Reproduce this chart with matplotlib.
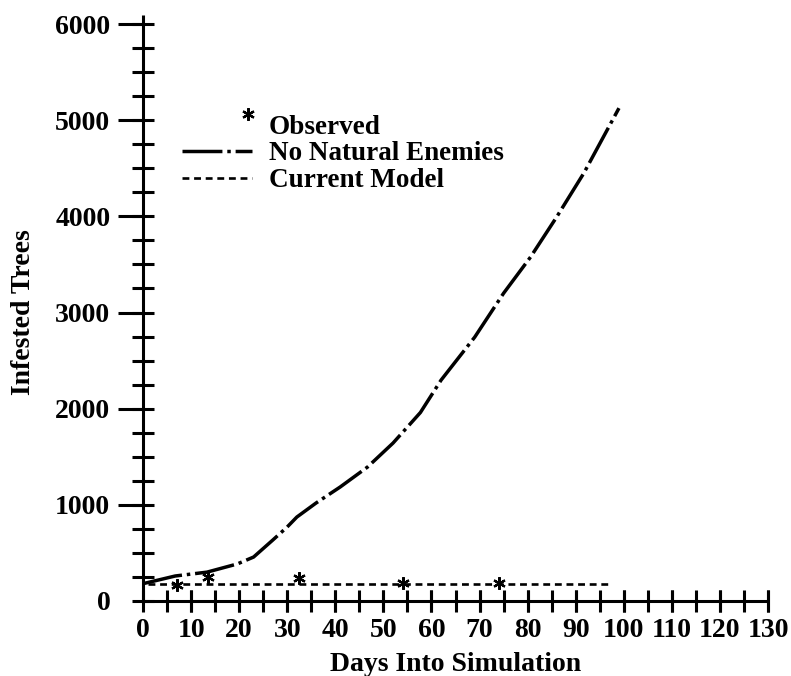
import matplotlib
matplotlib.use("Agg")
import matplotlib.pyplot as plt
from matplotlib.ticker import MultipleLocator, FixedLocator
from matplotlib.lines import Line2D
import numpy as np

# ---------------- data ----------------
no_enemies_days = [0, 6.7, 13.3, 19.6, 23, 27, 30, 32, 36, 41, 46.7, 52, 57.7,
                   62, 69, 75, 80.6, 86, 91.7, 99]
no_enemies_vals = [180, 260, 300, 385, 457, 634, 770, 873, 1019, 1185, 1393,
                   1642, 1960, 2297, 2744, 3200, 3576, 3990, 4450, 5125]

current_days = [1, 10, 20, 30, 40, 50, 60, 70, 80, 90, 97]
current_vals = [175, 175, 175, 175, 175, 175, 175, 175, 175, 175, 175]

observed_days = [7, 13.5, 32.5, 54, 74]
observed_vals = [170, 250, 240, 185, 185]

x_ticks = list(range(0, 131, 10))
y_ticks = list(range(0, 6001, 1000))

labels = ["Observed", "No Natural Enemies", "Current Model"]
x_label = "Days Into Simulation"
y_label = "Infested Trees"

# ---------------- style ----------------
plt.rcParams["font.family"] = ["Liberation Serif", "DejaVu Serif"]
plt.rcParams["font.weight"] = "bold"
FS = 20
LFS = 19.5

fig = plt.figure(figsize=(7.91, 6.76), dpi=100)
ax = fig.add_axes([143 / 791, 75 / 676, 625 / 791, 577 / 676])

lw_ax = 2.2
dashdot = (0, (11.5, 1.4, 1.0, 1.4))
dotted = (0, (2.6, 1.8))
star = (6, 2, 0)

ax.plot(no_enemies_days, no_enemies_vals, color="black", lw=2.5,
        linestyle=dashdot, solid_capstyle="butt", dash_capstyle="butt")
ax.plot(current_days, current_vals, color="black", lw=1.9,
        linestyle=dotted, dash_capstyle="butt")
ax.plot(observed_days, observed_vals, linestyle="none", marker=star,
        ms=9, mew=1.6, color="black")

ax.set_xlim(0, 130)
ax.set_ylim(0, 6000)

for s in ["top", "right"]:
    ax.spines[s].set_visible(False)
ax.spines["left"].set_linewidth(lw_ax)
ax.spines["bottom"].set_linewidth(lw_ax)
ax.spines["left"].set_bounds(0, 6090)
ax.spines["left"].set_capstyle("butt")
ax.spines["bottom"].set_capstyle("butt")

ax.xaxis.set_major_locator(FixedLocator(x_ticks))
ax.xaxis.set_minor_locator(MultipleLocator(5))
ax.yaxis.set_major_locator(FixedLocator(y_ticks))
ax.yaxis.set_minor_locator(MultipleLocator(250))
ax.xaxis.remove_overlapping_locs = False
ax.yaxis.remove_overlapping_locs = False

ax.tick_params(axis="x", which="both", direction="inout", length=16,
               width=lw_ax, labelsize=FS, pad=4.5)
ax.tick_params(axis="y", which="major", direction="out", length=18,
               width=lw_ax, labelsize=FS, pad=5.5)
ax.tick_params(axis="y", which="minor", direction="inout", length=16.5,
               width=lw_ax)

ax.set_xticklabels([str(v) for v in x_ticks])
ax.set_yticklabels([str(v) for v in y_ticks])
for t in ax.get_xticklabels() + ax.get_yticklabels():
    t.set_fontweight("bold")

fig.canvas.draw()
ax.xaxis.get_major_ticks()[0].tick1line.set_visible(False)
ax.yaxis.get_major_ticks()[0].tick1line.set_visible(False)

ax.set_xlabel(x_label, fontsize=FS, fontweight="bold", labelpad=6)
ax.set_ylabel(y_label, fontsize=FS, fontweight="bold", labelpad=14)


class RaisedStarHandler:
    """Legend handler: asterisk placed at the right end of the handle, raised."""
    def legend_artist(self, legend, orig_handle, fontsize, handlebox):
        w, h = handlebox.width, handlebox.height
        art = Line2D([w - 3], [h * 0.5 + 7], linestyle="none", marker=star,
                     ms=9, mew=1.6, color="black")
        handlebox.add_artist(art)
        return art


h_obs = Line2D([], [], linestyle="none", marker=star, ms=9, mew=1.6,
               color="black")
h_ne = Line2D([], [], color="black", lw=2.5, linestyle=(0, (11.5, 1.4, 1.0, 1.4)))
h_cm = Line2D([], [], color="black", lw=1.9, linestyle=dotted)

leg = ax.legend([h_obs, h_ne, h_cm], labels, loc="upper left",
                bbox_to_anchor=(0.062, 0.843), frameon=False,
                handlelength=2.6, handletextpad=0.62, labelspacing=0.07,
                borderpad=0, borderaxespad=0, numpoints=1,
                handler_map={h_obs: RaisedStarHandler()},
                prop={"weight": "bold", "size": LFS})

fig.savefig("out.png", dpi=100, facecolor="white")
